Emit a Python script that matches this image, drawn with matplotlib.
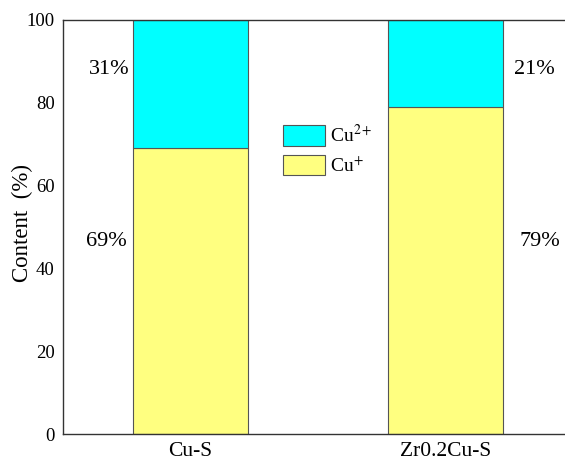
import matplotlib
matplotlib.use("Agg")
import matplotlib.pyplot as plt
import numpy as np

samples = ["Cu-S", "Zr0.2Cu-S"]
cu_plus = [69, 79]
cu_2plus = [31, 21]
lbl_plus = ["69%", "79%"]
lbl_2plus = ["31%", "21%"]

plt.rcParams['font.family'] = ['Liberation Serif', 'DejaVu Serif']
plt.rcParams['mathtext.fontset'] = 'stix'

fig = plt.figure(figsize=(5.65, 4.61), dpi=100)
ax = fig.add_axes([63 / 565, 27 / 461, 510 / 565, 414 / 461])

x = np.arange(len(samples))
w = 0.45
b1 = ax.bar(x, cu_plus, w, color="#FFFF80", edgecolor="#555555", linewidth=0.8, label="Cu$^{+}$")
b2 = ax.bar(x, cu_2plus, w, bottom=cu_plus, color="#00FFFF", edgecolor="#555555", linewidth=0.8,
            label="Cu$^{2+}$")

# percentage labels beside the bars
offs_top = [-0.32, 0.35]
offs_bot = [-0.33, 0.37]
for i in range(len(samples)):
    ax.text(x[i] + offs_top[i], 88, lbl_2plus[i], ha="center", va="center", fontsize=16)
    ax.text(x[i] + offs_bot[i], 46.5, lbl_plus[i], ha="center", va="center", fontsize=16)

ax.set_xlim(-0.5, 1.5)
ax.set_ylim(0, 100)
ax.set_xticks(x)
ax.set_xticklabels(samples, fontsize=15.5)
ax.set_yticks([0, 20, 40, 60, 80, 100])
ax.tick_params(axis="both", length=0)
ax.tick_params(axis="y", pad=6, labelsize=13.5)
ax.tick_params(axis="x", pad=6)
ax.set_ylabel("Content  (%)", fontsize=16.5)
ax.yaxis.set_label_coords(-0.058, 0.51)
for s in ax.spines.values():
    s.set_color("#333333")
    s.set_linewidth(1.0)
ax.spines["right"].set_visible(False)

ax.legend(handles=[b2, b1], loc="upper left", bbox_to_anchor=(0.431, 0.749), frameon=False,
          fontsize=14, handlelength=2.15, handleheight=1.25, handletextpad=0.3,
          labelspacing=0.45, borderpad=0, borderaxespad=0)

plt.savefig("out.png", dpi=100)
